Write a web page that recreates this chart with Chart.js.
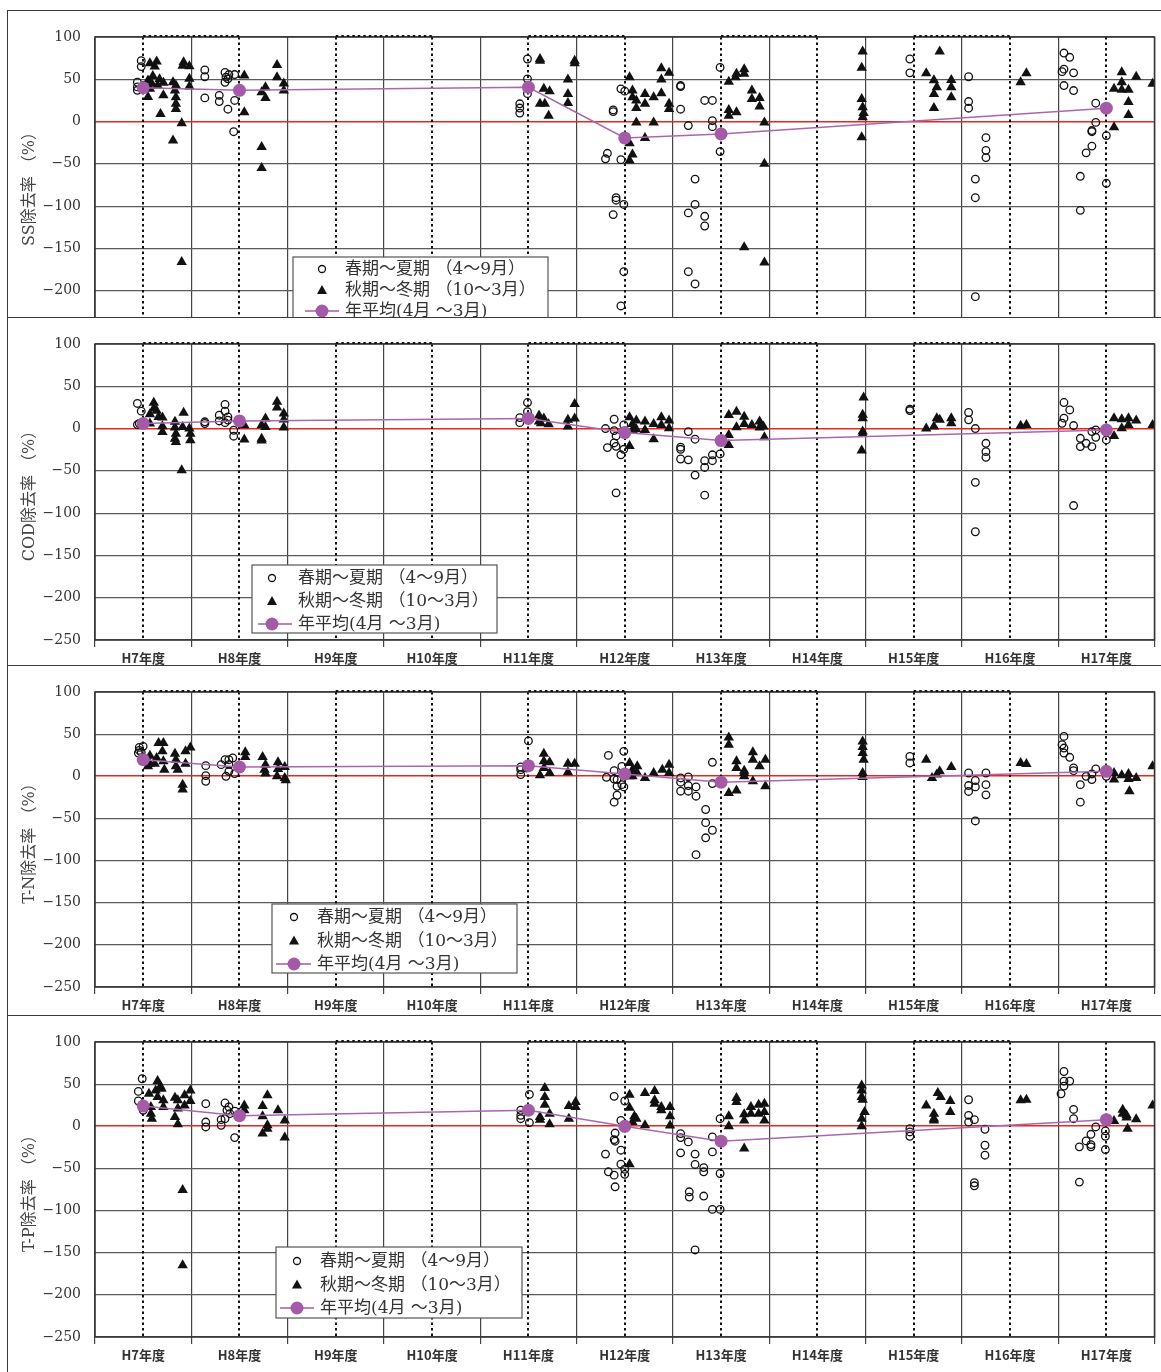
<!DOCTYPE html>
<html lang="ja">
<head>
  <meta charset="UTF-8" />
  <title>除去率の経年変化</title>
  <script src="https://cdn.jsdelivr.net/npm/chart.js"></script>
  <style>
    body {
      margin: 0;
      background: #fff;
      width: 1161px;
      height: 1372px;
      position: relative;
      overflow: hidden;
    }
    .frame {
      position: absolute;
      left: 7px;
      width: 1170px;
      box-sizing: border-box;
      border: 1.5px solid #3a3a3a;
    }
    .clip {
      position: absolute;
      left: 0;
      width: 1161px;
      overflow: hidden;
    }
    canvas {
      position: absolute;
      left: 0;
    }
  </style>
</head>
<body>
  <div class="frame" style="top:10px;height:308px"></div>
  <div class="frame" style="top:317px;height:349px"></div>
  <div class="frame" style="top:665px;height:351px"></div>
  <div class="frame" style="top:1015px;height:380px"></div>

  <!-- top panel is cut off by the next frame, like in the printed figure -->
  <div class="clip" style="top:10px;height:307px">
    <canvas id="c1" width="1161" height="348" style="top:0"></canvas>
  </div>
  <canvas id="c2" width="1161" height="348" style="top:317px"></canvas>
  <canvas id="c3" width="1161" height="350" style="top:665px"></canvas>
  <canvas id="c4" width="1161" height="357" style="top:1015px"></canvas>

  <script>
    // x = fiscal-year position (0 = start of H7, 1 = start of H8, ...)
    const yearLabels = ['H7年度', 'H8年度', 'H9年度', 'H10年度', 'H11年度', 'H12年度',
                        'H13年度', 'H14年度', 'H15年度', 'H16年度', 'H17年度'];
    const avgX = [0.5, 1.5, 4.5, 5.5, 6.5, 10.5];   // H7, H8, H11, H12, H13, H17

    // ---- SS ----
    const ssSpring = [
      [0.48,72],[0.48,65],[0.44,46.5],[0.44,41],[0.44,37],
      [1.14,61],[1.14,53],[1.14,28],[1.29,31],[1.29,23.7],[1.38,14.6],[1.45,25],[1.44,-12],
      [1.35,58],[1.36,52.5],[1.39,55.6],[1.45,55.6],[1.35,46.5],[1.38,50.5],
      [4.49,74],[4.49,50.5],[4.49,33],[4.41,21],[4.41,16],[4.41,10],
      [5.46,38.7],[5.50,36],[5.38,13.8],[5.38,11.8],[5.32,-37.5],[5.30,-44],[5.46,-45],
      [5.41,-90],[5.41,-93],[5.49,-98],[5.38,-110],[5.49,-177.5],[5.46,-218],
      [6.08,42.6],[6.08,41.4],[6.08,14.6],[6.16,-4.7],[6.33,25],[6.41,25],[6.41,1],[6.41,-6],
      [6.49,64],[6.49,-35.5],[6.23,-68],[6.23,-98],[6.16,-108],[6.33,-112],[6.33,-123.5],
      [6.16,-177.5],[6.23,-192],
      [8.46,74],[8.46,57.6],
      [9.07,53],[9.07,23.7],[9.07,15.8],[9.25,-19],[9.25,-34],[9.25,-42.6],[9.14,-68],[9.14,-90],[9.14,-207],
      [10.06,81],[10.12,76],[10.04,59],[10.06,62],[10.16,57.6],[10.06,42.6],[10.16,36.7],[10.39,21.7],
      [10.39,-1],[10.35,-10.6],[10.35,-12],[10.50,-16.6],[10.35,-29],[10.29,-37],[10.23,-64.7],
      [10.50,-73],[10.23,-105]
    ];
    const ssAutumn = [
      [0.57,69],[0.64,71],[0.62,65],[0.60,54],[0.55,48.5],[0.59,44.6],[0.67,50],[0.71,46],[0.65,42.6],
      [0.57,38.7],[0.55,29],[0.71,31],[0.68,9],[0.81,46.5],[0.84,42.6],[0.83,36.7],[0.84,28.8],[0.84,21],
      [0.84,15],[0.81,-22.5],[0.90,-2],[0.90,-166],[0.92,70],[0.91,66],[0.98,65.5],[0.98,50.5],[0.98,41.4],
      [1.55,54.4],[1.55,11],[1.73,-30],[1.73,-55],[1.73,34.7],[1.77,40.6],[1.77,28],[1.89,67],[1.89,52.5],
      [1.96,45],[1.96,36.7],
      [4.62,74],[4.62,72],[4.66,38.7],[4.72,36],[4.62,21],[4.67,21],[4.71,7],[4.91,49.7],[4.91,32.7],
      [4.91,22],[4.98,72],[4.98,69],
      [5.55,52.5],[5.58,36.7],[5.58,28.8],[5.62,24.9],[5.62,16],[5.62,-1],[5.71,32.7],[5.71,21],[5.80,28.8],
      [5.80,-1],[5.88,63],[5.88,49.7],[5.88,33.5],[5.96,57.6],[5.96,21],[5.96,15],[5.55,-25.6],[5.58,-39],
      [5.55,-46],[5.71,-19.3],
      [6.58,47],[6.65,52.5],[6.66,56.4],[6.74,62],[6.74,56.4],[6.82,36.7],[6.82,26.8],[6.90,28],[6.90,17.8],
      [6.58,13.8],[6.58,7],[6.66,11],[6.95,-1],[6.95,-50],[6.74,-148.7],[6.95,-166.5],
      [7.97,83],[7.96,63.5],[7.96,26.8],[7.97,17],[7.98,10],[7.97,5],[7.96,-18.5],
      [8.77,83],[8.63,57],[8.71,49],[8.74,40.6],[8.71,32.7],[8.71,16],[8.89,49.3],[8.89,40.6],[8.89,28.8],
      [9.61,46.5],[9.67,57],
      [10.58,-6.7],[10.58,38.7],[10.66,58.4],[10.66,46.5],[10.66,37.5],[10.73,37.5],[10.73,23],[10.73,7.9],
      [10.81,53],[10.98,44.6]
    ];
    const ssAvg = [40, 37, 40.6, -19.3, -14.6, 15.8];

    // ---- COD ----
    const codSpring = [
      [0.44,29.7],[0.48,20.6],[0.44,4.7],[0.46,6],
      [1.14,8],[1.14,6],[1.29,15.8],[1.29,9],[1.35,28.5],[1.35,20.6],[1.38,13.8],[1.38,10],[1.35,7],
      [1.44,-2],[1.44,-9],
      [4.49,30.8],[4.49,20],[4.41,13],[4.41,7],
      [5.39,11],[5.30,0],[5.39,-2.4],[5.41,-8.7],[5.39,-17],[5.32,-22.5],[5.41,-21],[5.46,-31],[5.49,-24.5],
      [5.49,4.3],[5.41,-76],
      [6.08,-22],[6.08,-24.5],[6.08,-36],[6.16,-3.6],[6.16,-37],[6.23,-12.6],[6.23,-55],[6.33,-38],[6.33,-46],
      [6.41,-31],[6.41,-38],[6.33,-78.7],[6.49,-30],
      [8.46,23],[8.46,21.3],
      [9.07,19],[9.07,10.3],[9.14,0],[9.25,-17.4],[9.25,-27.3],[9.25,-34],[9.14,-63.6],[9.14,-122],
      [10.06,30.8],[10.12,22],[10.04,6.3],[10.06,12.3],[10.16,3.6],[10.35,-3.6],[10.39,-1.6],[10.39,-10.3],
      [10.29,-17.4],[10.23,-11.5],[10.23,-21.3],[10.35,-21.3],[10.50,-13.4],[10.16,-91]
    ];
    const codAutumn = [
      [0.61,30.5],[0.61,23.7],[0.57,17],[0.64,21],[0.66,13.8],[0.70,13],[0.57,6],[0.70,2.8],[0.70,-4],
      [0.83,8],[0.83,1.2],[0.84,-6],[0.83,-12],[0.84,-15.8],[0.92,18.6],[0.91,2],[0.98,0],[0.99,-6],
      [0.99,-13.8],[0.90,-49.4],
      [1.55,4],[1.55,-13],[1.73,-12],[1.73,-14],[1.73,4],[1.77,12],[1.77,2],[1.89,31.6],[1.89,25],
      [1.96,17.8],[1.96,10.7],[1.96,1.2],
      [4.61,15.4],[4.66,12],[4.71,5],[4.61,8.3],[4.63,6.3],[4.91,10.3],[4.91,2.4],[4.98,29],[4.98,12],
      [5.55,13.4],[5.58,5.5],[5.62,9.5],[5.62,-0.8],[5.71,8.3],[5.71,-1.6],[5.80,5.5],[5.80,-12.6],
      [5.88,13.4],[5.88,4.3],[5.96,9.5],[5.96,0.4],[5.55,-20.5],[5.58,-1.6],
      [6.58,16],[6.66,20],[6.66,1.6],[6.74,14],[6.74,5.5],[6.82,4.3],[6.90,8.3],[6.90,1.2],[6.94,2.4],
      [6.58,-7.5],[6.58,-19.4],[6.95,-10.3],
      [7.98,36.8],[7.97,16.2],[7.97,12.3],[7.97,-3.6],[7.97,-6.3],[7.96,-26],
      [8.63,0],[8.71,2.4],[8.74,12.3],[8.77,10.3],[8.89,12.3],[8.89,6.3],
      [9.61,3.2],[9.67,4.3],
      [10.58,12.3],[10.58,-8.7],[10.66,11],[10.66,0.4],[10.73,12.3],[10.73,4.3],[10.81,9.5],[10.98,4.3]
    ];
    const codAvg = [6, 9, 12, -4.7, -14.2, -1.6];

    // ---- T-N ----
    const tnSpring = [
      [0.46,34.3],[0.50,35.5],[0.46,30.7],[0.45,27.6],[0.48,28.4],
      [1.15,12.6],[1.15,0.8],[1.15,-5.9],[1.31,13.8],[1.35,19.7],[1.39,19.7],[1.43,21.7],[1.39,13.8],
      [1.39,5.9],[1.45,3.2],[1.36,0],
      [4.50,42],[4.42,11],[4.42,2],[4.42,7.9],[4.48,9.9],
      [5.33,24.8],[5.49,29.6],[5.39,6.7],[5.47,11.8],[5.31,-1.2],[5.39,-3.2],[5.42,-3.9],[5.42,-11.8],
      [5.47,-9.9],[5.49,-12.6],[5.42,-22.5],[5.39,-30.7],
      [6.08,-2],[6.08,-7],[6.16,-0.8],[6.16,-11],[6.24,-12.6],[6.08,-17.7],[6.16,-17.7],[6.24,-23.6],
      [6.41,16.6],[6.41,-8.7],[6.34,-39.4],[6.34,-55],[6.41,-64],[6.34,-73],[6.24,-93],
      [8.46,23.6],[8.46,15.8],
      [9.07,3.9],[9.07,-11],[9.07,-18],[9.14,-5],[9.14,-12.6],[9.25,3.9],[9.25,-9.9],[9.25,-22],[9.14,-53],
      [10.06,47.3],[10.04,37.4],[10.06,33.5],[10.06,27.6],[10.12,22.5],[10.16,9.9],[10.16,6.7],[10.39,8.7],
      [10.35,2.8],[10.29,0],[10.35,-3.9],[10.23,-9.9],[10.23,-30.7],[10.50,0]
    ];
    const tnAutumn = [
      [0.57,24.4],[0.57,15],[0.55,11.8],[0.64,21.7],[0.66,39.4],[0.71,39.4],[0.70,29.6],[0.71,17.7],
      [0.72,7.9],[0.62,15],[0.83,26.8],[0.84,19.7],[0.84,11.8],[0.86,7.9],[0.91,-9.9],[0.91,-15.8],
      [0.94,29.6],[0.94,15],[0.99,34.3],
      [1.56,28.4],[1.56,22.9],[1.74,22.9],[1.77,13.8],[1.76,7.9],[1.77,3.2],[1.90,16.6],[1.90,8.7],
      [1.89,0],[1.97,11],[1.97,-2],[1.98,-4.7],
      [4.66,26.8],[4.66,17.7],[4.66,9.9],[4.72,16.6],[4.72,3.9],[4.62,1.2],[4.91,15],[4.91,4.7],[4.98,15],
      [5.55,15.8],[5.58,7.9],[5.63,11.8],[5.63,3.9],[5.58,0],[5.71,-2],[5.80,3.9],[5.89,7.9],[5.96,13.8],
      [5.96,3.9],[5.55,0],
      [6.58,46],[6.58,37.4],[6.66,17.7],[6.66,9.9],[6.74,6.7],[6.74,0],[6.74,3.9],[6.83,28.4],[6.83,19.7],
      [6.83,-5.9],[6.90,11.8],[6.96,19.7],[6.96,-11.8],[6.58,-19.7],[6.66,-17],
      [7.97,41.4],[7.97,34.7],[7.97,27.6],[7.98,19.7],[7.97,3.9],[7.97,-0.8],
      [8.63,19.7],[8.69,-2],[8.74,2],[8.77,5.9],[8.89,11],
      [9.61,15.8],[9.67,14.6],
      [10.58,3.9],[10.58,-3.9],[10.66,1.2],[10.73,2.8],[10.73,-3.2],[10.81,-2],[10.74,-17.7],[10.98,11.8]
    ];
    const tnAvg = [19.7, 11, 12.6, 2.8, -7, 5.9];

    // ---- T-P ----
    const tpSpring = [
      [0.49,56.4],[0.45,41.4],[0.45,30],[0.50,19],
      [1.15,26.8],[1.15,5],[1.15,-0.8],[1.31,7.9],[1.31,1.2],[1.35,27.6],[1.39,22.9],[1.37,19],[1.40,15],
      [1.35,9],[1.45,18],[1.45,-13.4],
      [4.51,37.8],[4.42,19],[4.42,13],[4.42,9],[4.51,4.3],
      [5.39,35.5],[5.50,30],[5.46,7],[5.40,-8],[5.39,-15.8],[5.40,-17.7],[5.46,-28.4],[5.30,-33],[5.46,-45],
      [5.50,-51],[5.50,-57],[5.33,-54],[5.39,-58],[5.40,-71.8],
      [6.08,-8.7],[6.08,-13.4],[6.16,-18.5],[6.08,-31.5],[6.23,-33],[6.23,-45.3],[6.32,-49],[6.32,-54],
      [6.17,-77.7],[6.17,-84],[6.32,-82.8],[6.41,-12.6],[6.41,-30.4],[6.41,-98.6],[6.49,-98.6],[6.49,9],
      [6.49,-56],[6.23,-146.7],
      [8.46,-2.8],[8.46,-6.7],[8.46,-11.8],
      [9.07,31.5],[9.07,13],[9.07,5],[9.13,7.9],[9.24,-3.5],[9.24,-22.5],[9.24,-34.3],[9.13,-67],[9.13,-70.6],
      [10.06,65],[10.06,53.6],[10.12,53.6],[10.06,47.7],[10.03,38.6],[10.16,20],[10.16,9],[10.39,-0.8],
      [10.34,-9.5],[10.29,-17.4],[10.34,-21.7],[10.34,-24.4],[10.22,-24.4],[10.49,-5.5],[10.49,-11.8],
      [10.49,-27.6],[10.22,-66.2]
    ];
    const tpAutumn = [
      [0.65,53.6],[0.68,47.3],[0.63,42.6],[0.69,44.6],[0.56,38.6],[0.65,34.7],[0.71,30.8],[0.71,22.9],
      [0.58,22.9],[0.58,15],[0.59,9],[0.83,34],[0.86,30.8],[0.86,21],[0.83,11],[0.86,2.4],[0.93,36.7],
      [0.93,24.8],[0.99,42.6],[0.99,30],[0.91,-75.7],[0.91,-165],
      [1.55,24.8],[1.55,19],[1.74,24],[1.74,11.8],[1.79,36.7],[1.79,1.2],[1.79,-3],[1.74,-8.7],[1.90,19],
      [1.97,7],[1.97,-13.4],
      [4.67,45.3],[4.67,34.7],[4.67,25.6],[4.62,11],[4.62,7.9],[4.72,15],[4.72,2.4],[4.92,24],[4.92,9],
      [4.99,28.8],[4.99,22.9],
      [5.55,37.5],[5.55,22],[5.60,11.8],[5.62,9],[5.58,5],[5.71,39.4],[5.71,1.2],[5.81,41.8],[5.81,30.8],
      [5.81,26.8],[5.88,22.9],[5.88,19],[5.97,22.9],[5.97,11.8],[5.97,0.8],[5.55,-45],
      [6.58,11.8],[6.58,0],[6.66,33.5],[6.66,28.8],[6.74,14.2],[6.74,7],[6.74,-26.4],[6.81,22.9],[6.81,15],
      [6.89,25.6],[6.89,15],[6.95,26.8],[6.95,17],[6.95,7],
      [7.96,48.5],[7.96,42.6],[7.96,34.7],[7.97,31.5],[7.99,17],[7.96,9],[7.96,0],
      [8.63,24.8],[8.75,39.4],[8.78,34.7],[8.71,15],[8.71,9],[8.71,7],[8.88,30],[8.88,17],
      [9.61,30.8],[9.67,31.5],
      [10.58,6.3],[10.67,19.7],[10.67,15],[10.71,13],[10.71,10.3],[10.81,8.3],[10.72,-2.8],[10.98,24.8]
    ];
    const tpAvg = [24, 12.6, 19, 0, -17.7, 7.9];

    const legendLabels = ['春期～夏期 （4～9月）', '秋期～冬期 （10～3月）', '年平均(4月 ～3月)'];

    const PURPLE = '#a55aa8';
    const SERIF = '"DejaVu Serif", "Noto Sans CJK JP", serif';
    const SANS = '"Noto Sans CJK JP", "DejaVu Sans", sans-serif';

    const panels = [
      { id: 'c1', title: 'SS除去率 （%）', spring: ssSpring, autumn: ssAutumn, avg: ssAvg,
        axisH: 25, showX: false,
        legend: { x: 293, y: 247, w: 255, h: 80, mx: 29, tx: 52, row0: 12, pitch: 21, lx0: 12 } },
      { id: 'c2', title: 'COD除去率 （%）', spring: codSpring, autumn: codAutumn, avg: codAvg,
        axisH: 25, showX: true,
        legend: { x: 252, y: 248, w: 245, h: 68, mx: 20, tx: 46, row0: 13, pitch: 23, lx0: 6 } },
      { id: 'c3', title: 'T-N除去率 （%）', spring: tnSpring, autumn: tnAutumn, avg: tnAvg,
        axisH: 28, showX: true,
        legend: { x: 272, y: 239, w: 245, h: 69, mx: 22, tx: 45, row0: 13, pitch: 23.5, lx0: 4 } },
      { id: 'c4', title: 'T-P除去率 （%）', spring: tpSpring, autumn: tpAutumn, avg: tpAvg,
        axisH: 35, showX: true,
        legend: { x: 276, y: 232, w: 246, h: 71, mx: 21, tx: 44, row0: 14, pitch: 23.5, lx0: 4 } }
    ];

    // dotted lines at year centres, dotted top edge over alternate pairs, plot frame, legend box
    const decorPlugin = {
      id: 'decor',
      beforeDatasetsDraw(chart) {
        const { ctx, chartArea: a, scales: { x } } = chart;
        ctx.save();
        ctx.strokeStyle = '#111';
        ctx.lineWidth = 2;
        ctx.setLineDash([2.5, 3]);
        for (let i = 0; i < yearLabels.length; i++) {
          const px = Math.round(x.getPixelForValue(i + 0.5));
          ctx.beginPath();
          ctx.moveTo(px, a.top);
          ctx.lineTo(px, a.bottom);
          ctx.stroke();
        }
        ctx.restore();
      },
      afterDraw(chart, args, opts) {
        const { ctx, chartArea: a, scales: { x } } = chart;
        ctx.save();
        ctx.strokeStyle = '#333';
        ctx.lineWidth = 1.5;
        ctx.strokeRect(a.left, a.top, a.right - a.left, a.bottom - a.top);

        ctx.strokeStyle = '#111';
        ctx.lineWidth = 2;
        ctx.setLineDash([2.5, 3]);
        for (let i = 0; i < 10; i += 2) {
          ctx.beginPath();
          ctx.moveTo(x.getPixelForValue(i + 0.5), a.top - 1);
          ctx.lineTo(x.getPixelForValue(i + 1.5), a.top - 1);
          ctx.stroke();
        }
        ctx.setLineDash([]);

        const L = opts.box;
        ctx.beginPath();
        ctx.rect(a.left, a.top, a.right - a.left, a.bottom - a.top);
        ctx.clip();
        ctx.fillStyle = '#fff';
        ctx.fillRect(L.x, L.y, L.w, L.h);
        ctx.strokeStyle = '#555';
        ctx.lineWidth = 1.2;
        ctx.strokeRect(L.x, L.y, L.w, L.h);

        const mx = L.x + L.mx;
        let ry = L.y + L.row0;
        // open circle
        ctx.strokeStyle = '#111';
        ctx.lineWidth = 1.3;
        ctx.beginPath();
        ctx.arc(mx, ry, 3.5, 0, Math.PI * 2);
        ctx.stroke();
        // filled triangle
        ry += L.pitch;
        ctx.fillStyle = '#111';
        ctx.beginPath();
        ctx.moveTo(mx, ry - 5);
        ctx.lineTo(mx + 5, ry + 4);
        ctx.lineTo(mx - 5, ry + 4);
        ctx.closePath();
        ctx.fill();
        // line + dot
        ry += L.pitch;
        ctx.strokeStyle = PURPLE;
        ctx.lineWidth = 1.5;
        ctx.beginPath();
        ctx.moveTo(L.x + L.lx0, ry);
        ctx.lineTo(L.x + L.tx - 6, ry);
        ctx.stroke();
        ctx.fillStyle = PURPLE;
        ctx.beginPath();
        ctx.arc(mx, ry, 6.5, 0, Math.PI * 2);
        ctx.fill();

        ctx.fillStyle = '#333';
        ctx.font = '17px ' + SERIF;
        ctx.textBaseline = 'middle';
        legendLabels.forEach((t, i) => {
          ctx.fillText(t, L.x + L.tx, L.y + L.row0 + i * L.pitch + 1);
        });
        ctx.restore();
      }
    };

    function makeChart(p) {
      const ctx = document.getElementById(p.id).getContext('2d');
      return new Chart(ctx, {
        type: 'scatter',
        data: {
          datasets: [
            {
              label: '年平均',
              data: avgX.map((x, i) => ({ x, y: p.avg[i] })),
              showLine: true,
              borderColor: '#a968ad',
              borderWidth: 1.5,
              pointRadius: 6.5,
              pointBackgroundColor: PURPLE,
              pointBorderWidth: 0,
              order: 0
            },
            {
              label: '春期～夏期',
              data: p.spring.map(([x, y]) => ({ x, y })),
              pointStyle: 'circle',
              pointRadius: 3.8,
              borderColor: '#111',
              backgroundColor: 'rgba(0,0,0,0)',
              pointBorderWidth: 1.3,
              order: 1
            },
            {
              label: '秋期～冬期',
              data: p.autumn.map(([x, y]) => ({ x, y })),
              pointStyle: 'triangle',
              pointRadius: 6,
              backgroundColor: '#111',
              borderColor: '#111',
              pointBorderWidth: 0,
              order: 2
            }
          ]
        },
        options: {
          responsive: false,
          animation: false,
          events: [],
          layout: { padding: { top: 27, right: 1, left: 0, bottom: 0 } },
          plugins: {
            legend: { display: false },
            tooltip: { enabled: false },
            decor: { box: p.legend }
          },
          scales: {
            x: {
              type: 'linear',
              min: 0,
              max: 11,
              afterFit: s => { s.height = p.axisH; },
              border: { display: false },
              grid: {
                color: c => Number.isInteger(c.tick.value) ? '#444' : 'rgba(0,0,0,0)',
                tickColor: c => Number.isInteger(c.tick.value) ? '#444' : 'rgba(0,0,0,0)',
                lineWidth: 1.2,
                tickLength: 7,
                drawTicks: p.showX
              },
              ticks: {
                display: p.showX,
                stepSize: 0.5,
                autoSkip: false,
                maxRotation: 0,
                padding: 3,
                color: '#333',
                font: { family: SANS, size: 13, weight: 'bold' },
                callback: v => (v % 1 === 0.5) ? yearLabels[Math.floor(v)] : ''
              }
            },
            y: {
              min: -250,
              max: 100,
              afterFit: s => { s.width = 95; },
              border: { display: false },
              grid: {
                color: c => c.tick.value === 0 ? '#e8261d' : '#5a5a5a',
                lineWidth: c => c.tick.value === 0 ? 1.6 : 1.2,
                drawTicks: false
              },
              ticks: {
                stepSize: 50,
                padding: 14,
                color: '#333',
                font: { family: SERIF, size: 14 },
                callback: v => String(v).replace('-', '−')
              },
              title: {
                display: true,
                text: p.title,
                color: '#444',
                font: { family: SERIF, size: 16 },
                padding: { top: 20, bottom: 0 }
              }
            }
          }
        },
        plugins: [decorPlugin]
      });
    }

    panels.forEach(makeChart);
  </script>
</body>
</html>
